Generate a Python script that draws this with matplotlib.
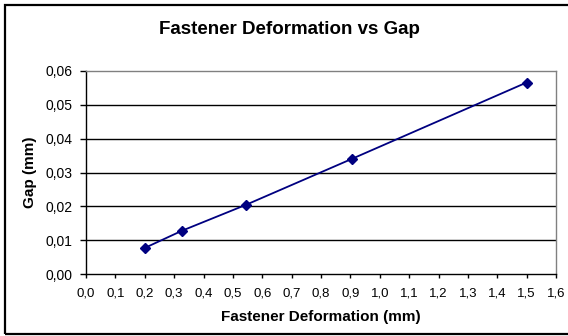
import matplotlib
matplotlib.use("Agg")
import matplotlib.pyplot as plt
from matplotlib.patches import Rectangle

plt.rcParams['font.family'] = ['Liberation Sans', 'DejaVu Sans']

deformation = [0.20, 0.327, 0.546, 0.907, 1.50]
gap = [0.0077, 0.0128, 0.0205, 0.0341, 0.0566]

x_ticks = [i / 10 for i in range(17)]
y_ticks = [i / 100 for i in range(7)]
x_labels = [f"{v:.1f}".replace('.', ',') for v in x_ticks]
y_labels = [f"{v:.2f}".replace('.', ',') for v in y_ticks]

W, H = 568, 336
fig = plt.figure(figsize=(W / 100, H / 100), dpi=100)
fig.patch.set_facecolor('white')

# outer border
fig.add_artist(Rectangle((4.5 / W, 1 - 334 / H), (W + 5) / W, (334 - 5) / H,
                         transform=fig.transFigure, fill=False,
                         edgecolor='black', linewidth=1.6, clip_on=False))

ax = fig.add_axes([86 / W, 1 - 274 / H, (556 - 86) / W, (274 - 71) / H])
ax.set_xlim(0, 1.6)
ax.set_ylim(0, 0.06)

for y in y_ticks[1:-1]:
    ax.axhline(y, color='black', linewidth=1.0, zorder=1)

ax.plot(deformation, gap, color='#000080', linewidth=1.3, marker='D',
        markersize=5, markerfacecolor='#000080', markeredgecolor='#000080',
        zorder=3, clip_on=False)

for side in ['top', 'right']:
    ax.spines[side].set_color('#808080')
    ax.spines[side].set_linewidth(1.0)
for side in ['left', 'bottom']:
    ax.spines[side].set_color('black')
    ax.spines[side].set_linewidth(1.0)

ax.set_xticks(x_ticks)
ax.set_xticklabels(x_labels, fontsize=9.5)
ax.set_yticks(y_ticks)
ax.set_yticklabels(y_labels, fontsize=10)
ax.tick_params(axis='x', direction='out', length=3, width=1, color='black', pad=7)
ax.tick_params(axis='y', direction='out', length=4, width=1, color='black', pad=5.5)

fig.text(321 / W, 1 - 317.5 / H, 'Fastener Deformation (mm)',
         ha='center', va='center', fontsize=11, fontweight='bold')
fig.text(30 / W, 1 - 172 / H, 'Gap (mm)', rotation=90,
         ha='center', va='center', fontsize=11, fontweight='bold')
fig.text(289 / W, 1 - 29 / H, 'Fastener Deformation vs Gap',
         ha='center', va='center', fontsize=13.5, fontweight='bold')

fig.savefig('out.png', dpi=100, facecolor='white')
